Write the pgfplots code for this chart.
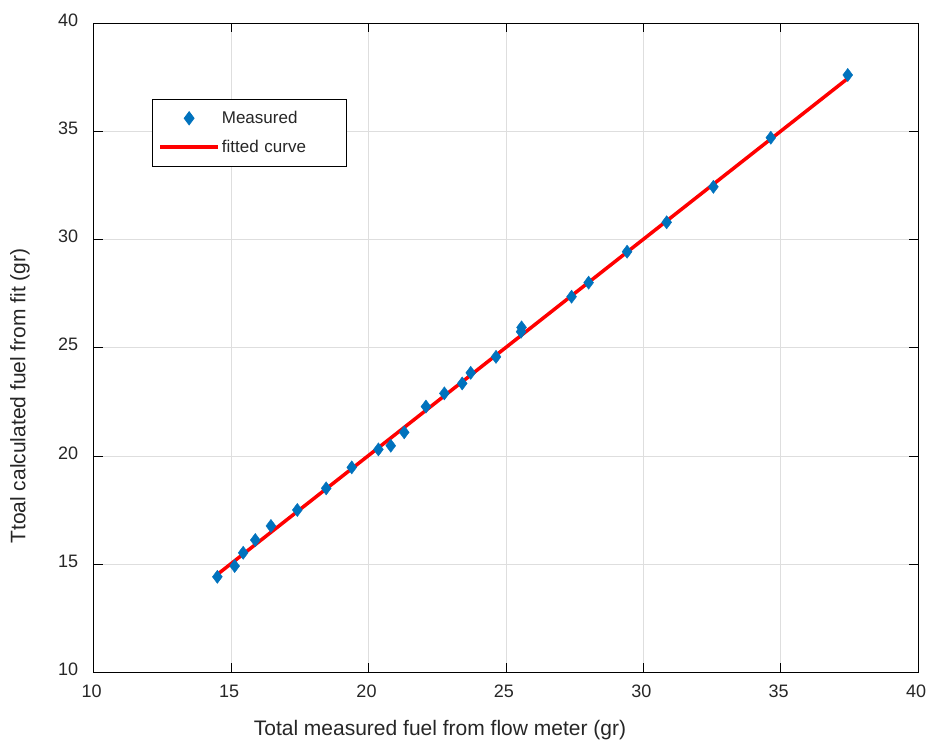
\documentclass[border=0pt]{standalone}
\usepackage{pgfplots}
\pgfplotsset{compat=1.18}
\usepackage{fontspec}
\setmainfont{Liberation Sans}

\definecolor{mblue}{RGB}{0,114,189}
\definecolor{gridgray}{RGB}{222,222,222}

\pgfplotsset{
  marklegend/.style={legend image code/.code={\draw[##1] plot coordinates {(29pt,0pt)};\path (0pt,0pt) (58pt,0pt);}},
  linelegend/.style={legend image code/.code={\draw[##1] (0pt,0pt) -- (58pt,0pt);}},
}

\begin{document}
\begin{tikzpicture}
\begin{axis}[
  scale only axis,
  width=824.4pt, height=648.9pt,
  xmin=10, xmax=40, ymin=10, ymax=40,
  xtick={10,15,...,40}, ytick={10,15,...,40},
  grid=major,
  major grid style={gridgray, line width=0.8pt},
  axis line style={black, line width=0.8pt},
  tick align=inside,
  major tick length=9pt,
  tick style={black, line width=0.8pt},
  /pgf/number format/assume math mode=true,
  ticklabel style={font=\fontsize{18}{21}\selectfont, text=black!85},
  xticklabel style={yshift=-9pt, xshift=-2pt},
  yticklabel style={xshift=-12pt, yshift=3pt},
  label style={font=\fontsize{21}{24}\selectfont, text=black!85},
  xlabel={Total measured fuel from flow meter (gr)},
  ylabel={Ttoal calculated fuel from fit (gr)},
  xlabel style={at={(axis description cs:0.42,-0.089)}, anchor=center},
  ylabel style={at={(axis description cs:-0.0894,0.4257)}, anchor=center},
  legend cell align=left,
  legend style={
    at={(axis description cs:0.0707,0.8834)}, anchor=north west,
    draw=black, line width=0.8pt, fill=white,
    inner xsep=6pt, inner ysep=10pt,
    row sep=11pt,
    font=\fontsize{17}{20}\selectfont,
    nodes={text width=117pt, inner xsep=2pt, text=black!85},
  },
]
% measured points
\addplot[only marks, mark=diamond*, mark size=6.6pt, color=mblue, marklegend]
coordinates {
  (14.50,14.41) (15.13,14.91) (15.44,15.52) (15.88,16.11) (16.45,16.76)
  (17.41,17.50) (18.46,18.50) (19.39,19.47) (20.36,20.30) (20.81,20.47)
  (21.30,21.09) (22.09,22.28) (22.76,22.89) (23.41,23.35) (23.72,23.84)
  (24.64,24.58) (25.55,25.74) (25.57,25.94) (27.39,27.36) (28.01,28.01)
  (29.41,29.44) (30.85,30.80) (32.55,32.44) (34.64,34.71) (37.44,37.61)
};
\addlegendentry{Measured}
% linear fit
\addplot[red, line width=3.5pt, linelegend]
coordinates {(14.50,14.52) (37.44,37.45)};
\addlegendentry{fitted curve}
\end{axis}
\pgfresetboundingbox
\path ([shift={(-93.7pt,-74.8pt)}]current axis.south west) rectangle ([shift={(8.9pt,23.3pt)}]current axis.north east);
\end{tikzpicture}
\end{document}
